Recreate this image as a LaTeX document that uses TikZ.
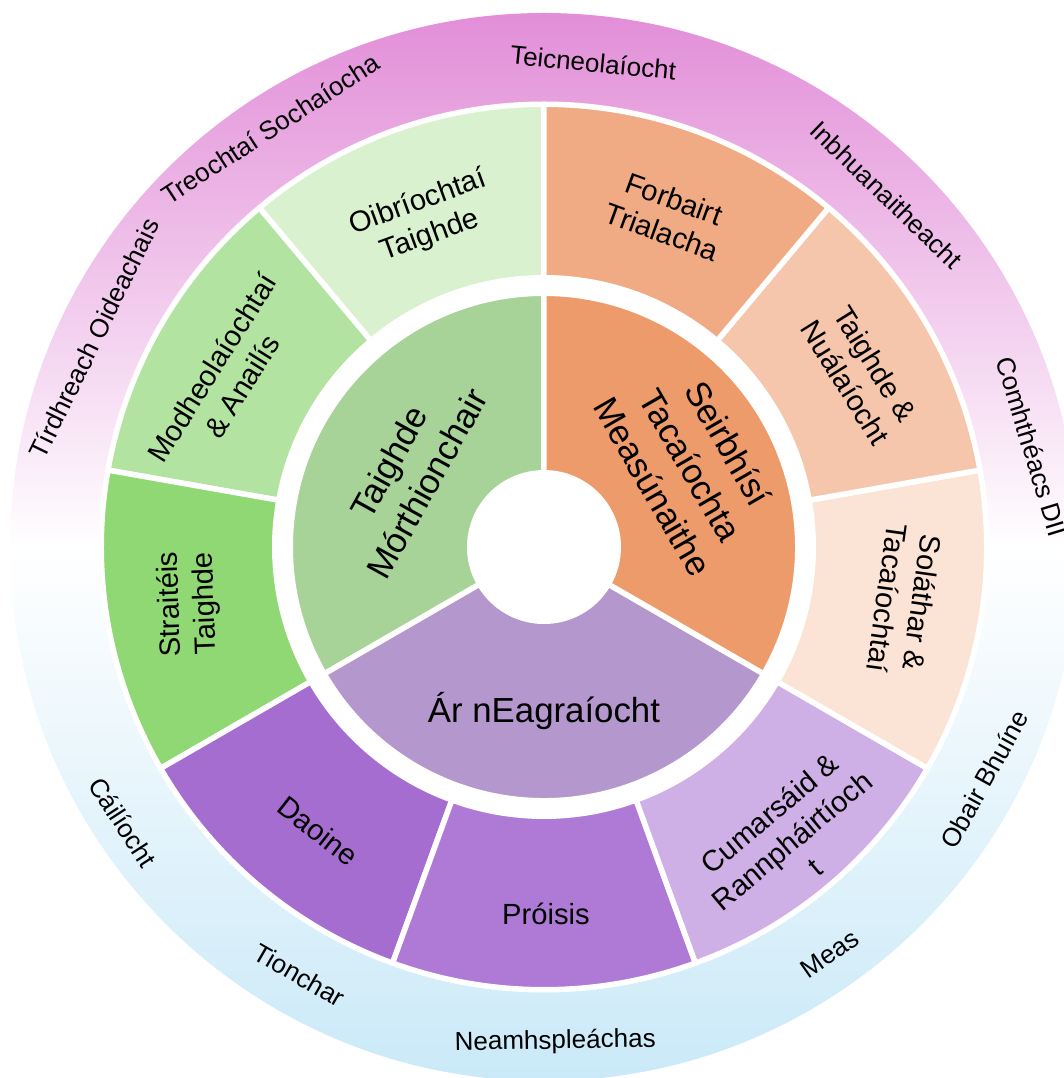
\documentclass[tikz,border=0pt]{standalone}
\usepackage{fontspec}
\setmainfont{Liberation Sans}
\usepackage{tikz}

\definecolor{ringtop}{HTML}{E28ED8}
\definecolor{ringbot}{HTML}{CAE9F8}
\definecolor{hubgreen}{HTML}{A8D398}
\definecolor{huborange}{HTML}{EE9B6C}
\definecolor{hubpurple}{HTML}{B497CC}
\definecolor{oibcol}{HTML}{D9F1CF}
\definecolor{modcol}{HTML}{B3E3A1}
\definecolor{strcol}{HTML}{8FD874}
\definecolor{daocol}{HTML}{A66DD0}
\definecolor{procol}{HTML}{AF7AD5}
\definecolor{cumcol}{HTML}{CFB0E6}
\definecolor{solcol}{HTML}{FBE3D6}
\definecolor{nuacol}{HTML}{F5C6AB}
\definecolor{forcol}{HTML}{F0AA84}

\begin{document}
\begin{tikzpicture}[line join=round,
    wedge/.style={draw=white, line width=0.11cm},
    outerlbl/.style={inner sep=0pt, font=\fontsize{14.8}{17.8}\selectfont},
    midlbl/.style={inner sep=0pt, align=center, font=\fontsize{16.6}{20}\selectfont},
    hublbl/.style={inner sep=0pt, align=center, font=\fontsize{19.8}{24.8}\selectfont}]
    \useasboundingbox (-10.88,-10.62) rectangle (10.38,10.94);

    % Outer ring with its gradient
    \shade[top color=ringtop, bottom color=ringbot, middle color=white] (0,0) circle (10.68);
    \fill[white] (0,0) circle (8.88);

    % Inner ring: the three main areas
    \filldraw[wedge, fill=hubgreen] (90:1.485) -- (90:5.075) arc[start angle=90, end angle=210, radius=5.075] -- (210:1.485) arc[start angle=210, end angle=90, radius=1.485] -- cycle;
    \filldraw[wedge, fill=hubpurple] (210:1.485) -- (210:5.075) arc[start angle=210, end angle=330, radius=5.075] -- (330:1.485) arc[start angle=330, end angle=210, radius=1.485] -- cycle;
    \filldraw[wedge, fill=huborange] (-30:1.485) -- (-30:5.075) arc[start angle=-30, end angle=90, radius=5.075] -- (90:1.485) arc[start angle=90, end angle=-30, radius=1.485] -- cycle;

    % Middle ring: nine sub areas
    \filldraw[wedge, fill=oibcol] (90:5.385) -- (90:8.855) arc[start angle=90, end angle=130, radius=8.855] -- (130:5.385) arc[start angle=130, end angle=90, radius=5.385] -- cycle;
    \filldraw[wedge, fill=modcol] (130:5.385) -- (130:8.855) arc[start angle=130, end angle=170, radius=8.855] -- (170:5.385) arc[start angle=170, end angle=130, radius=5.385] -- cycle;
    \filldraw[wedge, fill=strcol] (170:5.385) -- (170:8.855) arc[start angle=170, end angle=210, radius=8.855] -- (210:5.385) arc[start angle=210, end angle=170, radius=5.385] -- cycle;
    \filldraw[wedge, fill=daocol] (210:5.385) -- (210:8.855) arc[start angle=210, end angle=250, radius=8.855] -- (250:5.385) arc[start angle=250, end angle=210, radius=5.385] -- cycle;
    \filldraw[wedge, fill=procol] (250:5.385) -- (250:8.855) arc[start angle=250, end angle=290, radius=8.855] -- (290:5.385) arc[start angle=290, end angle=250, radius=5.385] -- cycle;
    \filldraw[wedge, fill=cumcol] (290:5.385) -- (290:8.855) arc[start angle=290, end angle=330, radius=8.855] -- (330:5.385) arc[start angle=330, end angle=290, radius=5.385] -- cycle;
    \filldraw[wedge, fill=solcol] (-30:5.385) -- (-30:8.855) arc[start angle=-30, end angle=10, radius=8.855] -- (10:5.385) arc[start angle=10, end angle=-30, radius=5.385] -- cycle;
    \filldraw[wedge, fill=nuacol] (10:5.385) -- (10:8.855) arc[start angle=10, end angle=50, radius=8.855] -- (50:5.385) arc[start angle=50, end angle=10, radius=5.385] -- cycle;
    \filldraw[wedge, fill=forcol] (50:5.385) -- (50:8.855) arc[start angle=50, end angle=90, radius=8.855] -- (90:5.385) arc[start angle=90, end angle=50, radius=5.385] -- cycle;

    % Labels of the inner ring
    \node (morthionchair) [hublbl, rotate=61] at (151.4:3.1) {Taighde\\Mórthionchair};
    \node (seirbhisi) [hublbl, rotate=-60] at (29.2:3.36) {Seirbhísí\\Tacaíochta\\Measúnaithe};
    \node (eagraiocht) [hublbl] at (270:3.28) {Ár nEagraíocht};

    % Labels of the middle ring
    \node (oibriochtai) [midlbl, rotate=20] at (110.1:6.98) {Oibríochtaí\\Taighde};
    \node (modheol) [midlbl, rotate=58] at (151.8:7.2) {Modheolaíochtaí\\\& Anailís};
    \node (straiteis) [midlbl, rotate=92] at (189.1:7.2) {Straitéis\\Taighde};
    \node (daoine) [midlbl, rotate=-38] at (231.5:7.26) {Daoine};
    \node (proisis) [midlbl] at (270.3:7.34) {Próisis};
    \node (cumarsaid) [midlbl, rotate=40] at (-49.8:7.68) {Cumarsáid \&\\Rannpháirtíoch\\t};
    \node (solathar) [midlbl, rotate=-98] at (-8.4:7.3) {Soláthar \&\\Tacaíochtaí};
    \node (nualaiocht) [midlbl, rotate=-58] at (28.8:7.22) {Taighde \&\\Nuálaíocht};
    \node (forbairt) [midlbl, rotate=-20] at (69.5:7.08) {Forbairt\\Trialacha};

    % Labels round the outer ring
    \node (tirdhreach) [outerlbl, rotate=64] at (155.1:9.92) {Tírdhreach Oideachais};
    \node (treochtai) [outerlbl, rotate=33] at (123.2:10.0) {Treochtaí Sochaíocha};
    \node (teic) [outerlbl, rotate=-5.5] at (84.2:9.74) {Teicneolaíocht};
    \node (inbhuan) [outerlbl, rotate=-44] at (45.8:9.82) {Inbhuanaitheacht};
    \node (comhth) [outerlbl, rotate=-73] at (11.6:9.96) {Comhthéacs DII};
    \node (obair) [outerlbl, rotate=61] at (-27.8:9.96) {Obair Bhuíne};
    \node (meas) [outerlbl, rotate=35] at (-54.9:9.94) {Meas};
    \node (neamh) [outerlbl, rotate=1] at (-88.7:9.9) {Neamhspleáchas};
    \node (tionchar) [outerlbl, rotate=-30] at (240.3:9.86) {Tionchar};
    \node (cailiocht) [outerlbl, rotate=-57] at (213.2:10.06) {Cáilíocht};
\end{tikzpicture}
\end{document}
